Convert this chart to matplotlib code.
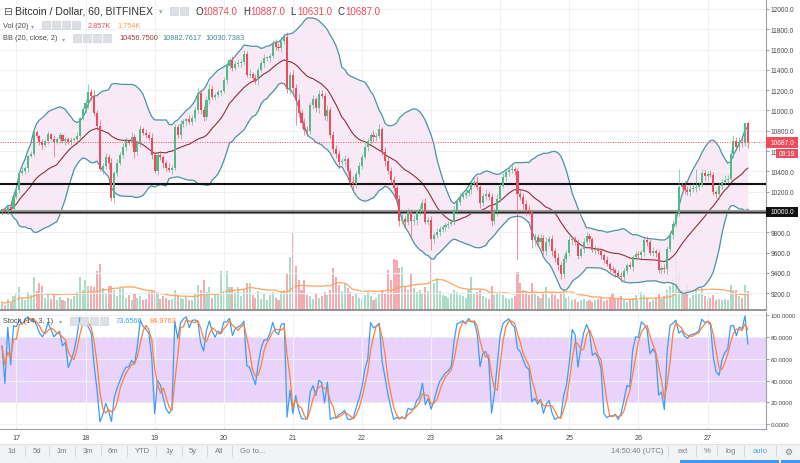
import numpy as np
import pandas as pd
import matplotlib
matplotlib.use("Agg")
import matplotlib.pyplot as plt
from matplotlib.patches import Rectangle
from matplotlib.ticker import MultipleLocator, FuncFormatter, FixedLocator

plt.rcParams['font.family'] = ['Liberation Sans', 'DejaVu Sans']

# ---------------- data (hourly candles, 16th 19:00 -> 27th 14:00 UTC) ----------------
first_open = 10000
closes = [
    10020, 10000, 10050, 10030, 10150,
    10220, 10380, 10400, 10430, 10550, 10570, 10790, 10750, 10690, 10660, 10700, 10770,
    10720, 10690, 10720, 10760, 10700, 10720, 10690, 10710, 10720, 10750, 10930, 11010,
    11070, 11180, 11140, 10980, 10850, 10420, 10450, 10540, 10480, 10140, 10380, 10480,
    10560, 10640, 10700, 10680, 10740, 10590, 10680, 10820, 10780, 10760, 10730, 10560,
    10400, 10560, 10540, 10480, 10430, 10410, 10430, 10840, 10760, 10870, 10900, 10920,
    10890, 10930, 11000, 11170, 11000, 10940, 11100, 11210, 11130, 11150, 11180, 11190,
    11300, 11440, 11500, 11420, 11460, 11470, 11480, 11560, 11350, 11360, 11320, 11300,
    11400, 11470, 11520, 11520, 11540, 11660, 11630, 11620, 11680, 11720, 11210, 11350,
    11220, 11100, 10980, 10880, 10810, 10800, 11050, 11110, 11020, 11160, 11140, 10950,
    11000, 10760, 10620, 10570, 10490, 10500, 10520, 10400, 10300, 10280, 10370, 10450,
    10540, 10640, 10700, 10760, 10740, 10750, 10820, 10590, 10500, 10400, 10320, 10240,
    10130, 9910, 9930, 9900, 10000, 9910, 9920, 10000, 10030, 10090, 9900, 9920,
    9730, 9770, 9800, 9830, 9850, 9870, 9880, 9900, 10020, 10100, 10150, 10170,
    10190, 10220, 10280, 10300, 10250, 10090, 10160, 10180, 10150, 9910, 10000, 10130,
    10260, 10340, 10390, 10410, 10420, 10400, 10180, 10150, 10080, 10020, 10000, 9720,
    9750, 9700, 9740, 9620, 9700, 9730, 9620, 9550, 9480, 9390, 9540, 9600,
    9720, 9730, 9700, 9570, 9640, 9700, 9760, 9730, 9630, 9640, 9620, 9580,
    9530, 9490, 9440, 9430, 9400, 9370, 9360, 9420, 9480, 9460, 9560, 9590,
    9580, 9610, 9720, 9700, 9600, 9620, 9600, 9430, 9450, 9440, 9640, 9770,
    9880, 9990, 10250, 10270, 10220, 10200, 10230, 10240, 10250, 10270, 10380, 10350,
    10370, 10360, 10200, 10180, 10260, 10300, 10320, 10330, 10575, 10700, 10640, 10690,
    10680, 10874, 10687,
]
# ordinary wicks above / below the bodies, in tens of dollars (one digit per candle)
upper_wick_10 = ("23132"
                 "324213421323142312232412" "453626343524344253342435"
                 "434235323421433524324232" "342434323524334233434253"
                 "546354342543534443423534" "343253425443545343534453"
                 "434323324343524353353445" "343242354452434353435343"
                 "423324232423242323432323" "323434233434435354554343"
                 "343243435345434")
lower_wick_10 = ("31223"
                 "232341223423132424231322" "354342536453234243342324"
                 "343532423434233234342323" "243323432344524342334345"
                 "454535343424534453544343" "324354235343563534453423"
                 "543434323432334235343534" "323434235534535343545343"
                 "342324232434323342343243" "234323434453433243434324"
                 "423453232434435")
# long wicks read individually
wick_high = {30: 11260, 48: 10860, 60: 10870, 68: 11220, 72: 11260, 84: 11600, 98: 11760,
             110: 11200, 131: 10870, 164: 10340, 177: 10470, 203: 9800, 223: 9760,
             235: 10420, 241: 10420, 243: 10420, 254: 10760, 258: 10880, 259: 10887}
wick_low = {18: 10540, 38: 10110, 46: 10530, 53: 10380, 102: 10860, 105: 10760, 117: 10420,
            122: 10220, 138: 9860, 142: 9760, 149: 9630, 170: 9860, 179: 9525, 184: 9650,
            194: 9340, 215: 9310, 228: 9400, 259: 10631}
volume_k = [
    1.2, 0.8, 1.6, 1.0, 2.0,
    2.4, 3.4, 1.8, 1.5, 2.6, 2.2, 4.9, 2.8, 3.9, 3.6, 1.8, 2.5,
    1.6, 2.2, 1.4, 1.9, 1.5, 1.3, 1.8, 1.6, 2.0, 2.6, 4.9, 3.0,
    4.4, 3.5, 3.6, 3.4, 5.8, 6.8, 3.2, 2.4, 3.6, 3.5, 3.0, 2.0,
    3.3, 3.2, 1.8, 2.2, 1.5, 2.4, 1.7, 2.0, 1.4, 1.6, 2.6, 2.8,
    3.0, 2.4, 1.6, 2.0, 1.8, 1.4, 1.6, 3.0, 2.2, 1.8, 1.6, 2.0,
    1.5, 1.4, 2.4, 3.7, 3.0, 4.4, 2.6, 3.4, 1.8, 2.2, 2.5, 5.7,
    2.8, 5.7, 3.4, 3.4, 2.6, 3.4, 2.0, 3.0, 3.9, 3.9, 2.2, 1.8,
    2.8, 1.6, 2.4, 1.4, 2.2, 2.6, 1.8, 1.5, 2.6, 3.0, 5.5, 7.8,
    11.3, 6.4, 4.4, 3.0, 4.4, 2.2, 2.0, 1.6, 2.4, 1.8, 2.0, 2.6,
    2.2, 3.0, 6.1, 4.9, 3.7, 2.8, 4.0, 3.2, 2.6, 2.0, 2.4, 1.8,
    1.6, 2.2, 2.6, 2.0, 1.4, 1.8, 2.4, 3.0, 2.4, 5.9, 4.4, 7.5,
    7.3, 6.1, 6.3, 3.6, 3.0, 5.4, 3.2, 2.6, 3.0, 2.4, 3.4, 2.8,
    8.3, 4.0, 4.7, 2.8, 2.2, 2.0, 1.8, 2.4, 3.0, 2.6, 2.2, 2.0,
    1.8, 3.0, 4.9, 2.4, 2.6, 3.0, 2.0, 1.8, 1.6, 3.6, 2.2, 2.4,
    2.8, 2.2, 1.8, 1.6, 1.8, 2.0, 5.6, 3.9, 3.0, 2.6, 2.2, 3.9,
    2.6, 2.0, 1.8, 2.4, 3.4, 1.8, 2.7, 2.2, 1.6, 2.6, 3.4, 1.8,
    2.0, 1.4, 1.6, 1.2, 1.4, 1.6, 1.3, 1.5, 1.2, 1.4, 1.6, 1.8,
    1.3, 1.5, 1.9, 2.5, 1.6, 1.8, 2.0, 1.4, 1.2, 1.6, 1.8, 2.2,
    1.4, 2.6, 2.2, 1.6, 1.2, 1.5, 1.8, 2.4, 1.6, 2.0, 3.0, 3.6,
    4.6, 8.2, 5.8, 3.2, 2.4, 3.7, 1.8, 2.2, 3.7, 2.4, 3.2, 2.0,
    1.6, 1.8, 2.2, 1.4, 1.6, 1.5, 1.6, 1.4, 3.7, 2.9, 2.9, 2.0,
    1.8, 3.7, 2.857,
]
day_labels = ['17', '18', '19', '20', '21', '22', '23', '24', '25', '26', '27']
day_start_idx = [5, 29, 53, 77, 101, 125, 149, 173, 197, 221, 245]
support_levels = [10275, 10000]
last_price = 10687.0
assert len(closes) == len(volume_k) == len(upper_wick_10) == len(lower_wick_10) == 260

# ---------------- derived series ----------------
c = np.array(closes, dtype=float)
o = np.r_[first_open, c[:-1]]
hi = np.maximum(o, c) + 10 * np.array([int(ch) for ch in upper_wick_10])
lo = np.minimum(o, c) - 10 * np.array([int(ch) for ch in lower_wick_10])
for k, v in wick_high.items():
    hi[k] = max(v, o[k], c[k])
for k, v in wick_low.items():
    lo[k] = min(v, o[k], c[k])
idx = np.arange(len(c))
up = c >= o

s = pd.Series(c)
bb_mid = s.rolling(20, min_periods=1).mean()
bb_sd = s.rolling(20, min_periods=1).std(ddof=0)
bb_up = bb_mid + 2 * bb_sd
bb_lo = bb_mid - 2 * bb_sd

vol = np.array(volume_k) * 1000
vol_ma = pd.Series(vol).rolling(20, min_periods=1).mean()

ll = pd.Series(lo).rolling(14, min_periods=1).min()
hh = pd.Series(hi).rolling(14, min_periods=1).max()
stoch_k = 100 * (s - ll) / (hh - ll)
stoch_d = stoch_k.rolling(3, min_periods=1).mean()

# ---------------- figure ----------------
W, H = 800, 464
fig = plt.figure(figsize=(8, 4.64), dpi=100)
fig.patch.set_facecolor('white')

GREEN = '#53b987'
RED = '#eb4d5c'
GRID = '#eef1f4'
AXC = '#9aa0a6'
TXT = '#4a4a4a'
XL = (-0.7, 265.3)


def fx(x):
    return x / W


def fy(y):
    return 1 - y / H


# volume axes (under price)
rect_p = [0, fy(311), fx(766), 311 / H]
ax_v = fig.add_axes(rect_p)
ax_v.set_zorder(0)
ax_v.bar(idx, vol, width=0.72, color=np.where(up, '#acdcc5', '#f5abb2'), linewidth=0)
ax_v.plot(idx, vol_ma, color='#ffa45c', lw=0.9)
ax_v.set_ylim(0, 45700)
ax_v.set_xlim(*XL)
ax_v.axis('off')

# price axes
ax = fig.add_axes(rect_p)
ax.set_zorder(1)
ax.patch.set_alpha(0)
ax.set_xlim(*XL)
ax.set_ylim(9035, 12098)
ax.yaxis.set_major_locator(MultipleLocator(200))
ax.yaxis.set_major_formatter(FuncFormatter(lambda v, p: '' if abs(v - 10600) < 1 else f'{v:.1f}'))
ax.yaxis.tick_right()
ax.tick_params(axis='y', length=2, pad=1.5, labelsize=4.8, labelcolor=TXT, color=AXC)
ax.xaxis.set_major_locator(FixedLocator(day_start_idx))
ax.tick_params(axis='x', length=0, labelbottom=False)
ax.grid(True, color=GRID, lw=0.8, zorder=0)
for sp in ['top', 'left']:
    ax.spines[sp].set_visible(False)
ax.spines['right'].set_color(AXC)
ax.spines['bottom'].set_color('#8c8c8c')
ax.spines['bottom'].set_linewidth(1.3)

# Bollinger bands
ax.fill_between(idx, bb_lo, bb_up, color='#f9e6f5', alpha=0.85, lw=0, zorder=1)
ax.plot(idx, bb_up, color='#4b93a3', lw=0.9, zorder=2)
ax.plot(idx, bb_lo, color='#4b93a3', lw=0.9, zorder=2)
ax.plot(idx, bb_mid, color='#8f2f3a', lw=0.8, zorder=2)

# horizontal levels
ax.axhline(support_levels[0], color='#111111', lw=1.5, zorder=3)
ax.axhline(support_levels[1], color='#9a9a9a', lw=3.0, zorder=3)
ax.axhline(support_levels[1], color='#222222', lw=1.0, zorder=3)
ax.axhline(last_price, color=RED, lw=0.7, ls=(0, (1, 1.5)), zorder=3)

# candles
col = np.where(up, GREEN, RED)
ax.vlines(idx, lo, hi, colors=col, lw=0.6, alpha=0.75, zorder=4)
ax.bar(idx, np.maximum(np.abs(c - o), 8), bottom=np.minimum(o, c), width=0.72,
       color=col, linewidth=0, zorder=5)

# stochastic axes
ax_s = fig.add_axes([0, fy(430), fx(766), (430 - 313) / H])
ax_s.set_xlim(*XL)
ax_s.set_ylim(-4.3, 102.7)
ax_s.axhspan(20, 80, color='#e9d3fb', lw=0, zorder=0)
ax_s.axhline(80, color='#8e8e8e', lw=0.8, ls=(0, (4, 3)), zorder=1)
ax_s.axhline(20, color='#8e8e8e', lw=0.8, ls=(0, (4, 3)), zorder=1)
ax_s.plot(idx, stoch_k, color='#3f9cf2', lw=0.9, zorder=3)
ax_s.plot(idx, stoch_d, color='#ff7f3a', lw=0.9, zorder=4)
ax_s.yaxis.set_major_locator(MultipleLocator(20))
ax_s.yaxis.set_major_formatter(FuncFormatter(lambda v, p: f'{v:.4f}'))
ax_s.yaxis.tick_right()
ax_s.tick_params(axis='y', length=2, pad=1.5, labelsize=4.4, labelcolor=TXT, color=AXC)
ax_s.set_xticks(day_start_idx)
ax_s.set_xticklabels(day_labels)
ax_s.tick_params(axis='x', length=0, pad=3.5, labelsize=5.2, labelcolor=TXT)
ax_s.grid(True, color=GRID, lw=0.8, zorder=0)
for sp in ['top', 'left']:
    ax_s.spines[sp].set_visible(False)
ax_s.spines['right'].set_color(AXC)
ax_s.spines['bottom'].set_color(AXC)


# ---------------- text overlays ----------------
def T(x, y, txt, size=5.3, color=TXT, ha='left', **kw):
    fig.text(fx(x), fy(y), txt, fontsize=size, color=color, ha=ha, va='center', **kw)


def icons(x0, y, n, step=10):
    for k in range(n):
        fig.patches.append(Rectangle((fx(x0 + k * step), fy(y + 4)), fx(8), 8 / H,
                                     transform=fig.transFigure, fc='#dcdfe3', ec='#c9ccd0',
                                     lw=0.4))


def box(x0, x1, y0, y1, fc):
    fig.patches.append(Rectangle((fx(x0), fy(y1)), fx(x1 - x0), (y1 - y0) / H,
                                 transform=fig.transFigure, fc=fc, ec=fc, lw=0, zorder=10))


T(3, 12, '⊟', size=7.5, color='#555555')
T(15, 12, 'Bitcoin / Dollar, 60, BITFINEX', size=7.6, color='#333333')
T(159, 13, '▾', size=5, color='#a0a0a0')
icons(170, 12, 2)
T(195, 12, 'O', size=7.0, color='#333333')
T(202.5, 12, '10874.0', size=7.0, color=RED)
T(243, 12, 'H', size=7.0, color='#333333')
T(250.5, 12, '10887.0', size=7.0, color=RED)
T(290, 12, 'L', size=7.0, color='#333333')
T(297.5, 12, '10631.0', size=7.0, color=RED)
T(337, 12, 'C', size=7.0, color='#333333')
T(345, 12, '10687.0', size=7.0, color=RED)

T(3, 26, 'Vol (20)', size=5.3)
T(31, 26.5, '▾', size=4.5, color='#a0a0a0')
icons(42, 26, 4)
T(88, 26, '2.857K', size=5.3, color=RED)
T(117, 26, '1.754K', size=5.3, color='#ff9a4a')

T(3, 39, 'BB (20, close, 2)', size=5.3)
T(62, 39.5, '▾', size=4.5, color='#a0a0a0')
icons(73, 39, 4)
T(119, 39, '10456.7500', size=5.3, color='#9a3a3a')
T(162, 39, '10882.7617', size=5.3, color='#3d8b97')
T(205, 39, '10030.7383', size=5.3, color='#3d8b97')

T(3, 321.5, 'Stoch (14, 3, 1)', size=5.3)
T(59, 322, '▾', size=4.5, color='#a0a0a0')
icons(70, 321.5, 4)
T(116, 321.5, '73.6566', size=5.3, color='#3f9cf2')
T(150, 321.5, '84.9763', size=5.3, color='#ff7f3a')

# price labels on the right axis
box(766, 798, 138, 149, RED)
fig.text(fx(782), fy(143.5), '10687.0', fontsize=4.8, color='white', ha='center', va='center', zorder=11)
T(770.5, 154, '10', size=4.8, color=TXT)
box(776, 798, 150, 159, RED)
fig.text(fx(787), fy(154.5), '09:19', fontsize=4.8, color='white', ha='center', va='center', zorder=11)
box(766, 798, 208, 218, '#111111')
fig.text(fx(782), fy(213), '10000.0', fontsize=4.8, color='white', ha='center', va='center', zorder=11)

# bottom toolbar
fig.patches.append(Rectangle((0, 0), 1, 19 / H, transform=fig.transFigure, fc='#f1f3f5',
                             ec='none', zorder=0))
fig.lines.append(plt.Line2D([0, 1], [fy(445), fy(445)], transform=fig.transFigure,
                            color='#dfe2e6', lw=0.8))
TB = '#7a7e87'
for lab, xc in zip(['1d', '5d', '1m', '3m', '6m', 'YTD', '1y', '5y', 'All'],
                   [12, 37, 62, 88, 113, 142, 170, 193, 219]):
    T(xc, 452, lab, size=5.5, color=TB, ha='center')
T(240, 452, 'Go to...', size=5.5, color=TB)
for xs in [25, 49, 75, 101, 127, 156, 182, 207, 232, 668, 696, 717, 744, 776]:
    fig.lines.append(plt.Line2D([fx(xs), fx(xs)], [fy(447), fy(457)],
                                transform=fig.transFigure, color='#d3d6da', lw=0.7))
T(637, 452, '14:50:40 (UTC)', size=5.5, color=TB, ha='center')
T(683, 452, 'ext', size=5.5, color=TB, ha='center')
T(707, 452, '%', size=5.5, color=TB, ha='center')
T(731, 452, 'log', size=5.5, color=TB, ha='center')
T(760, 452, 'auto', size=5.5, color='#45a6f0', ha='center')
T(788, 452, '⚙', size=6.5, color=TB, ha='center')
fig.patches.append(Rectangle((fx(680), 0), fx(99), 3 / H, transform=fig.transFigure,
                             fc='#3f9cf2', ec='none'))
fig.patches.append(Rectangle((fx(781), 0), fx(19), 3 / H, transform=fig.transFigure,
                             fc='#3f9cf2', ec='none'))

fig.savefig('out.png', dpi=100, facecolor='white')
